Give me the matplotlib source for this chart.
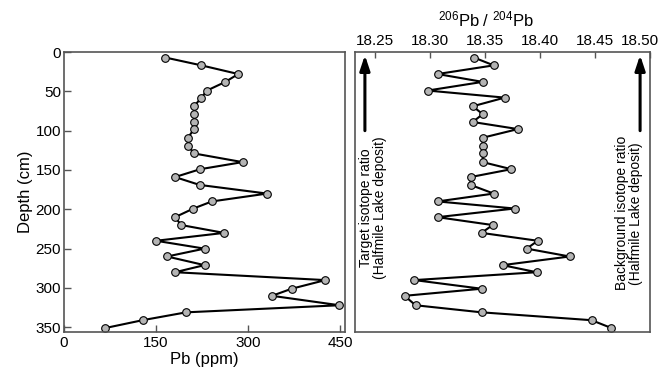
import matplotlib

matplotlib.use("Agg")
import matplotlib.pyplot as plt
import matplotlib.transforms as mtransforms

plt.rcParams["font.family"] = ["Liberation Sans", "DejaVu Sans"]
plt.rcParams["mathtext.fontset"] = "custom"
plt.rcParams["mathtext.rm"] = "Liberation Sans"
plt.rcParams["mathtext.it"] = "Liberation Sans:italic"

# depth of each sample (cm), shared by both profiles
depth = [7, 17, 28, 38, 49, 58, 69, 79, 89, 98, 109, 119, 129, 140, 149, 159, 169,
         180, 190, 199, 210, 220, 230, 240, 250, 260, 271, 280, 290, 301, 310, 322,
         331, 341, 351]

# Pb concentration (ppm)
pb_ppm = [165, 224, 284, 263, 233, 224, 212, 212, 212, 212, 202, 202, 212, 291, 222,
          181, 221, 331, 241, 211, 181, 191, 261, 150, 229, 168, 229, 181, 426, 371,
          339, 449, 199, 128, 67]

# 206Pb/204Pb ratio
pb_ratio = [18.340, 18.358, 18.307, 18.348, 18.298, 18.368, 18.339, 18.348, 18.339,
            18.380, 18.348, 18.348, 18.348, 18.348, 18.374, 18.337, 18.337, 18.358,
            18.307, 18.377, 18.307, 18.357, 18.347, 18.398, 18.388, 18.427, 18.366,
            18.397, 18.286, 18.347, 18.277, 18.287, 18.347, 18.447, 18.465]

ppm_ticks = [0, 150, 300, 450]
depth_ticks = [0, 50, 100, 150, 200, 250, 300, 350]
ratio_ticks = [18.25, 18.30, 18.35, 18.40, 18.45, 18.50]

target_ratio = 18.241
background_ratio = 18.491

SPINE = "#555555"
FACE = "#b4b4b4"

fig = plt.figure(figsize=(6.7, 3.76), dpi=100)
ax1 = fig.add_axes([64 / 670, 44 / 376, 281 / 670, 280 / 376])
ax2 = fig.add_axes([355 / 670, 44 / 376, 295 / 670, 280 / 376])

line_kw = dict(color="black", lw=1.5, marker="o", markersize=5.5,
               markerfacecolor=FACE, markeredgecolor="black", markeredgewidth=0.8)

# --- left: Pb concentration ---
ax1.plot(pb_ppm, depth, **line_kw)
ax1.set_xlim(0, 458)
ax1.set_ylim(356, 0)
ax1.set_xticks(ppm_ticks)
ax1.set_yticks(depth_ticks)
ax1.tick_params(direction="in", length=5, width=1, color=SPINE, labelsize=11, pad=3)
ax1.tick_params(axis="y", pad=2)
ax1.set_xlabel("Pb (ppm)", fontsize=12, labelpad=1)
ax1.set_ylabel("Depth (cm)", fontsize=12, labelpad=2)

# --- right: isotope ratio ---
ax2.plot(pb_ratio, depth, **line_kw)
ax2.set_xlim(18.232, 18.50)
ax2.set_ylim(356, 0)
ax2.set_xticks(ratio_ticks)
ax2.set_xticklabels([f"{t:.2f}" for t in ratio_ticks])
ax2.set_yticks([])
ax2.xaxis.tick_top()
ax2.tick_params(axis="x", direction="in", length=4, width=1, color=SPINE,
                labelsize=11, pad=3)
last = ax2.get_xticklabels()[-1]
last.set_transform(last.get_transform()
                   + mtransforms.ScaledTranslation(-0.1, 0, fig.dpi_scale_trans))
ax2.text(0.444, 1.093, r"$^{206}$Pb / $^{204}$Pb", transform=ax2.transAxes,
         ha="center", va="baseline", fontsize=12)

arrow_kw = dict(arrowstyle="-|>,head_length=0.9,head_width=0.3", color="black",
                lw=2.2, shrinkA=0, shrinkB=0)
for xr in (target_ratio, background_ratio):
    ax2.annotate("", xy=(xr, 4), xytext=(xr, 100), arrowprops=arrow_kw)

ax2.text(18.2485, 107, "Target isotope ratio\n(Halfmile Lake deposit)", rotation=90,
         ha="center", va="top", multialignment="center", fontsize=10, linespacing=1.05)
ax2.text(18.481, 107, "Background isotope ratio\n(Halfmile Lake deposit)", rotation=90,
         ha="center", va="top", multialignment="center", fontsize=10, linespacing=1.05)

for ax in (ax1, ax2):
    for sp in ax.spines.values():
        sp.set_color(SPINE)
        sp.set_linewidth(1.2)

fig.savefig("out.png", dpi=100)
